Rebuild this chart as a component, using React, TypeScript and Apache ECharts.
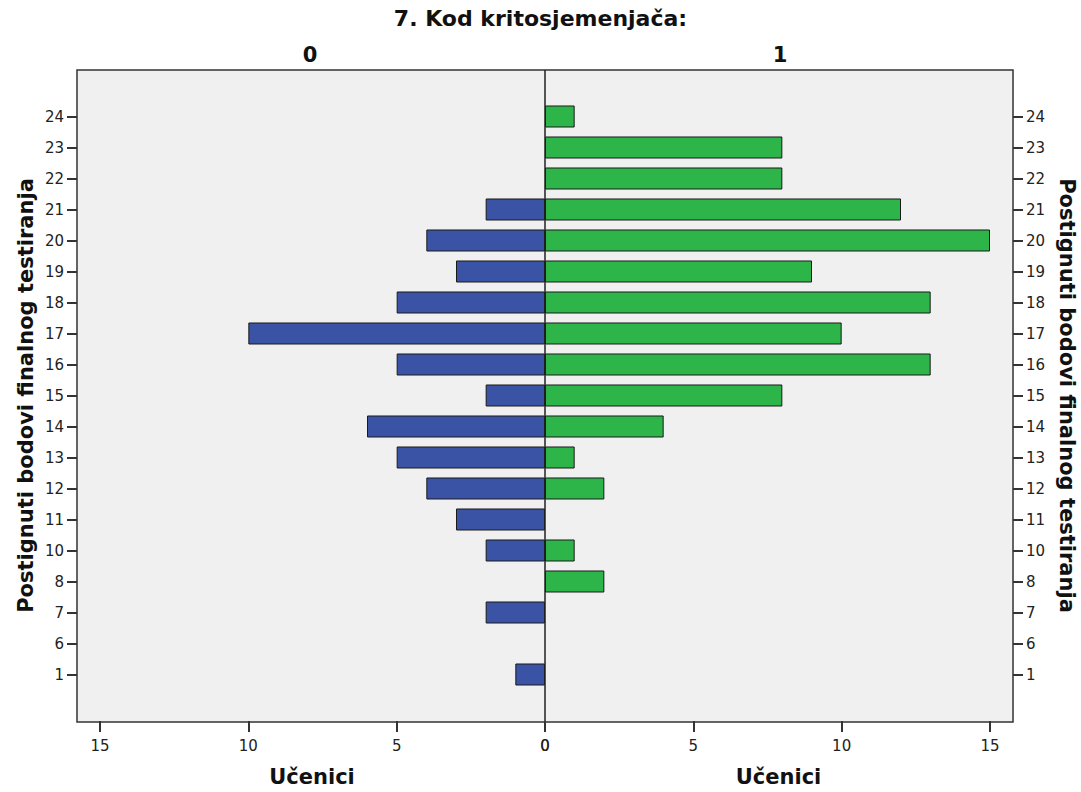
import React, { useEffect, useRef } from "react";
import * as echarts from "echarts";

const categories = ["1", "6", "7", "8", "10", "11", "12", "13", "14", "15", "16", "17", "18", "19", "20", "21", "22", "23", "24"];
const group0 = [1, 0, 2, 0, 2, 3, 4, 5, 6, 2, 5, 10, 5, 3, 4, 2, 0, 0, 0];
const group1 = [0, 0, 0, 2, 1, 0, 2, 1, 4, 8, 13, 10, 13, 9, 15, 12, 8, 8, 1];

const FONT = "DejaVu Sans";

export default function App() {
  const ref = useRef<HTMLDivElement>(null);
  useEffect(() => {
    if (!ref.current) return;
    const chart = echarts.init(ref.current, null, { renderer: "svg" });
    const cats = ["", ...categories, ""];
    const toData = (arr: number[]) => ["-", ...arr.map((v) => (v === 0 ? "-" : v)), "-"];
    const boldText = { fontFamily: FONT, fontWeight: "bold", fontSize: 21, color: "#111" };
    const yBase = (grid: number, pos: "left" | "right") => ({
      type: "category",
      gridIndex: grid,
      position: pos,
      offset: 23,
      data: cats,
      boundaryGap: true,
      axisLine: { show: false, onZero: false },
      axisTick: {
        show: true,
        alignWithLabel: true,
        length: 10,
        interval: (_i: number, v: string) => v !== "",
        lineStyle: { color: "#333", width: 2 },
      },
      axisLabel: { interval: 0, margin: 13, color: "#222", fontFamily: FONT, fontSize: 15 },
      name: "Postignuti bodovi finalnog testiranja",
      nameLocation: "middle",
      nameRotate: pos === "left" ? 90 : -90,
      nameGap: pos === "left" ? 41 : 43,
      nameTextStyle: boldText,
    });
    const xBase = (grid: number, inverse: boolean) => ({
      type: "value",
      gridIndex: grid,
      inverse,
      min: 0,
      max: 15,
      interval: 5,
      position: "bottom",
      splitLine: { show: false },
      axisLine: { show: false, onZero: false },
      axisTick: { show: true, length: 11, lineStyle: { color: "#333", width: 2 } },
      axisLabel: { color: "#222", fontFamily: FONT, fontSize: 15, margin: 17 },
      name: "Učenici",
      nameLocation: "middle",
      nameGap: 45,
      nameTextStyle: { ...boldText, padding: inverse ? [0, 21, 0, 0] : [0, 0, 0, 22] },
    });
    chart.setOption({
      animation: false,
      backgroundColor: "#fff",
      grid: [
        { left: 100, top: 70, width: 445, height: 652 },
        { left: 545, top: 70, width: 445, height: 652 },
      ],
      graphic: [
        {
          type: "rect",
          z: -10,
          silent: true,
          shape: { x: 77, y: 70, width: 936, height: 652 },
          style: { fill: "#f0f0f0", stroke: "#333", lineWidth: 1.5 },
        },
        {
          type: "rect",
          z: 100,
          silent: true,
          shape: { x: 72, y: 723, width: 10, height: 16 },
          style: { fill: "#fff" },
        },
        {
          type: "rect",
          z: 100,
          silent: true,
          shape: { x: 1008, y: 723, width: 10, height: 16 },
          style: { fill: "#fff" },
        },
      ],
      title: [
        { text: "7. Kod kritosjemenjača:", left: "center", top: 7, padding: 0, textStyle: { ...boldText, fontSize: 22 } },
        { text: "0", left: 310, top: 44, padding: 0, textAlign: "center", textStyle: boldText },
        { text: "1", left: 780, top: 44, padding: 0, textAlign: "center", textStyle: boldText },
      ],
      xAxis: [xBase(0, true), xBase(1, false)],
      yAxis: [yBase(0, "left"), yBase(1, "right")],
      series: [
        {
          type: "bar",
          name: "0",
          xAxisIndex: 0,
          yAxisIndex: 0,
          data: toData(group0),
          barWidth: "71%",
          itemStyle: { color: "#3a53a4", borderColor: "#1a1a1a", borderWidth: 1 },
        },
        {
          type: "bar",
          name: "1",
          xAxisIndex: 1,
          yAxisIndex: 1,
          data: toData(group1),
          barWidth: "71%",
          itemStyle: { color: "#2db54a", borderColor: "#1a1a1a", borderWidth: 1 },
          markLine: {
            silent: true,
            symbol: ["none", "none"],
            label: { show: false },
            lineStyle: { color: "#222", width: 1.5, type: "solid" },
            data: [{ xAxis: 0 }],
          },
        },
      ],
    });
    return () => chart.dispose();
  }, []);
  return <div ref={ref} style={{ width: 1081, height: 792, position: "absolute", left: 0, top: 0 }} />;
}
